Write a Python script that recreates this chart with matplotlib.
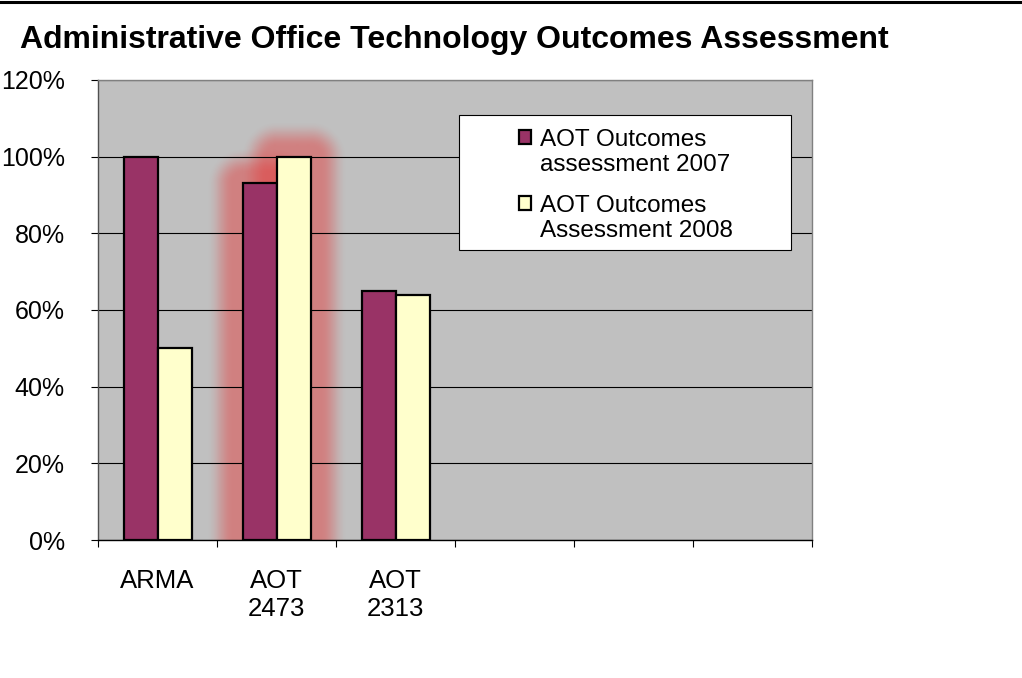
import matplotlib
matplotlib.use("Agg")  # headless: render straight to PNG
import matplotlib.pyplot as plt
import numpy as np
from matplotlib.colors import to_rgb
from matplotlib.container import BarContainer
from matplotlib.legend_handler import HandlerPatch
from matplotlib.lines import Line2D
from matplotlib.patches import Rectangle
from matplotlib.ticker import FixedLocator, PercentFormatter

plt.rcParams["font.family"] = ["Liberation Sans", "DejaVu Sans"]

TITLE = "Administrative Office Technology Outcomes Assessment"
categories = ["ARMA", "AOT\n2473", "AOT\n2313", "", "", ""]
series_names = ["AOT Outcomes\nassessment 2007", "AOT Outcomes\nAssessment 2008"]
scores_2007 = [1.00, 0.93, 0.65, np.nan, np.nan, np.nan]
scores_2008 = [0.50, 1.00, 0.64, np.nan, np.nan, np.nan]
highlighted = "AOT\n2473"

C_2007 = "#993366"
C_2008 = "#FFFFCC"
FS = 18


def add_glow(ax, bar, color="#e63232", pad=23, soft=13, alpha=0.45):
    """Soft halo around one bar, rasterised in display pixels."""
    trans = ax.transData
    x0, x1 = ax.get_xlim()
    y0, y1 = ax.get_ylim()
    (px0, py0), (px1, py1) = trans.transform([(x0, y0), (x1, y1)])
    nx, ny = int(round(px1 - px0)), int(round(py1 - py0))
    X, Y = np.meshgrid(np.linspace(px0, px1, nx), np.linspace(py0, py1, ny))
    (bx0, by0), (bx1, by1) = trans.transform(
        [(bar.get_x(), 0), (bar.get_x() + bar.get_width(), bar.get_height())])
    dx = np.maximum(np.maximum(bx0 - X, X - bx1), 0)
    dy = np.maximum(np.maximum(by0 - Y, Y - by1), 0)
    dist = np.hypot(dx, dy)
    t = np.clip((pad + soft - dist) / (2 * soft), 0, 1)
    rgba = np.zeros((ny, nx, 4))
    rgba[..., :3] = to_rgb(color)
    rgba[..., 3] = alpha * t * t * (3 - 2 * t)
    ax.imshow(rgba, extent=(x0, x1, y0, y1), origin="lower", aspect="auto",
              interpolation="bilinear", zorder=0.3)
    ax.set_xlim(x0, x1)
    ax.set_ylim(y0, y1)


def top_square(legend, orig_handle, xdescent, ydescent, width, height, fontsize):
    # put the key next to the first line of a two-line label
    return Rectangle((-xdescent, -ydescent + 0.62 * fontsize), width, height)


def style_from_bars(tgt, src):
    tgt.update_from(src.patches[0])


fig = plt.figure(figsize=(10.22, 6.78), dpi=100)
ax = fig.add_axes([98 / 1022, 138 / 678, 714 / 1022, 460 / 678])
ax.set_facecolor("#C0C0C0")

x = np.arange(len(categories))
w = 1 / 3.5  # Excel gap width 150%
b07 = ax.bar(x - w / 2, scores_2007, w, color=C_2007, edgecolor="black",
             linewidth=1.6, label=series_names[0], zorder=2)
b08 = ax.bar(x + w / 2, scores_2008, w, color=C_2008, edgecolor="black",
             linewidth=1.6, label=series_names[1], zorder=2)

ax.set_xlim(-0.5, len(categories) - 0.5)
ax.set_ylim(0, 1.2)

k = categories.index(highlighted)
for b in (b07[k], b08[k]):
    add_glow(ax, b)

# axes, ticks and grid
ax.yaxis.set_major_locator(FixedLocator(np.arange(0, 1.21, 0.2)))
ax.yaxis.set_major_formatter(PercentFormatter(1.0, decimals=0))
ax.yaxis.grid(True, color="black", lw=0.8)
ax.set_axisbelow(True)
ax.set_xticks(x)
ax.set_xticklabels(categories)
ax.xaxis.set_minor_locator(FixedLocator(np.arange(-0.5, len(categories), 1.0)))
ax.tick_params(axis="x", which="major", length=0, pad=21, labelsize=FS + 0.5)
ax.tick_params(axis="x", which="minor", length=5, width=0.8, direction="out")
ax.tick_params(axis="y", length=5, width=0.8, direction="out", pad=19, labelsize=FS)
for lbl in ax.get_xticklabels():
    lbl.set_linespacing(1.2)
ax.spines["bottom"].set_color("black")
ax.spines["left"].set_color("#505050")
ax.spines["top"].set_color("#808080")
ax.spines["right"].set_color("#808080")
for s in ax.spines.values():
    s.set_linewidth(1.0)

# legend box
ax.add_patch(Rectangle((361 / 714, 290 / 460), 332 / 714, 135 / 460,
                       transform=ax.transAxes, facecolor="white",
                       edgecolor="black", lw=0.8, zorder=4))
leg = ax.legend(loc="upper left", bbox_to_anchor=(421 / 714, 411 / 460),
                frameon=False, fontsize=17.5, borderpad=0, borderaxespad=0,
                handlelength=0.5, handleheight=0.5, handletextpad=0.35,
                labelspacing=0.8,
                handler_map={BarContainer: HandlerPatch(patch_func=top_square,
                                                        update_func=style_from_bars)})
leg.set_zorder(5)
for t in leg.get_texts():
    t.set_linespacing(1.15)

fig.text(20 / 1022, 1 - 40 / 678, TITLE, ha="left", va="center",
         fontsize=23, fontweight="bold")
fig.add_artist(Line2D([0, 1], [1 - 1.5 / 678] * 2, transform=fig.transFigure,
                      color="black", lw=2.2))

fig.savefig("out.png", dpi=100)
